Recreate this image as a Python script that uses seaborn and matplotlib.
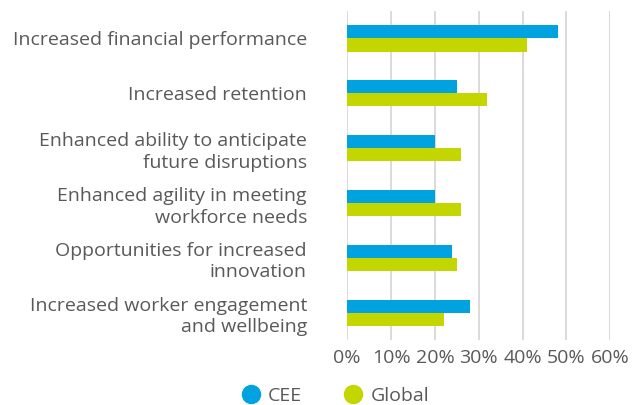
import pandas as pd
import matplotlib.pyplot as plt
import seaborn as sns
from matplotlib.lines import Line2D

# dados do gráfico
categorias = [
    'Increased financial performance',
    'Increased retention',
    'Enhanced ability to anticipate\nfuture disruptions',
    'Enhanced agility in meeting\nworkforce needs',
    'Opportunities for increased\ninnovation',
    'Increased worker engagement\nand wellbeing',
]
cee = [48, 25, 20, 20, 24, 28]
global_ = [41, 32, 26, 26, 25, 22]
series = ['CEE', 'Global']
cores = ['#00A3E0', '#C4D600']
ticks = [0, 10, 20, 30, 40, 50, 60]

df = pd.DataFrame({
    'categoria': categorias * 2,
    'valor': cee + global_,
    'serie': ['CEE'] * len(cee) + ['Global'] * len(global_),
})

sns.set_style('white')
plt.rcParams['font.family'] = ['Open Sans', 'DejaVu Sans']
texto = '#595959'
fs = 14

fig = plt.figure(figsize=(6.43, 4.05), dpi=100)
ax = fig.add_axes([0.540, 0.160, 0.409, 0.813])

sns.barplot(data=df, y='categoria', x='valor', hue='serie', order=categorias,
            hue_order=series, palette=cores, orient='h', width=0.48, gap=0,
            saturation=1, linewidth=0, ax=ax, legend=False)

ax.set_xlim(0, 60)
ax.set_ylim(len(categorias) - 0.5, -0.5)
ax.set_xticks(ticks)
ax.set_xticklabels([f'{t}%' for t in ticks], fontsize=fs, color=texto)
ax.set_yticks(range(len(categorias)))
ax.set_yticklabels(categorias, fontsize=fs, color=texto, ha='right',
                   linespacing=1.25)
ax.tick_params(axis='y', length=0, pad=29)
ax.tick_params(axis='x', length=0, pad=6)
ax.set_xlabel('')
ax.set_ylabel('')
ax.xaxis.grid(True, color='#d4d4d4', linewidth=1.2)
ax.set_axisbelow(True)
for s in ax.spines.values():
    s.set_visible(False)

# legenda com círculos
handles = [Line2D([0], [0], marker='o', linestyle='', markersize=13,
                  markerfacecolor=c, markeredgecolor=c) for c in cores]
leg = fig.legend(handles, series, loc='center', bbox_to_anchor=(0.517, 0.022),
                 ncol=2, frameon=False, fontsize=fs, handletextpad=0.15,
                 columnspacing=1.85, handlelength=1.5)
for t in leg.get_texts():
    t.set_color(texto)

fig.savefig('out.png', dpi=100)
